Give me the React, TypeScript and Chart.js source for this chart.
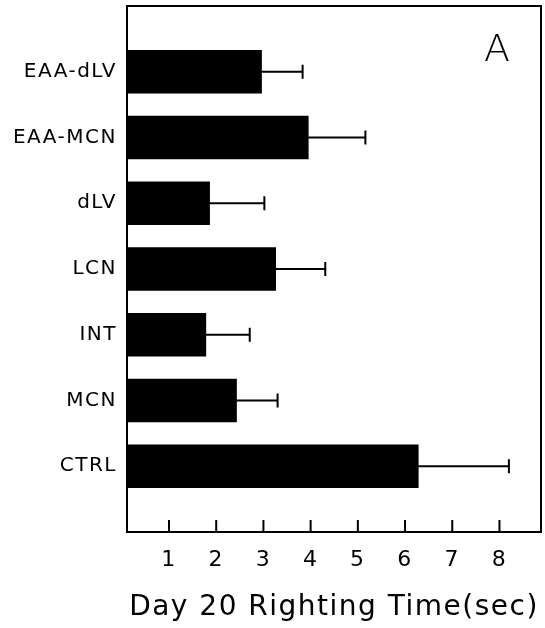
import React, { useEffect, useRef } from 'react';
import { Chart, registerables } from 'chart.js';

Chart.register(...registerables);

// ---- data ----
const categories = ['EAA-dLV', 'EAA-MCN', 'dLV', 'LCN', 'INT', 'MCN', 'CTRL'];
const meanTimes = [2.96, 3.95, 1.86, 3.26, 1.78, 2.43, 6.28];
const errorTimes = [0.87, 1.21, 1.16, 1.05, 0.93, 0.87, 1.92];
const xTicks = [1, 2, 3, 4, 5, 6, 7, 8];
const X_MIN = 0.11;
const X_MAX = 8.88;
const axisTitle = 'Day 20 Righting Time(sec)';
const panelLabel = 'A';

const FONT = '"DejaVu Sans", "Noto Sans", sans-serif';
const LETTER_SPACING = '1.5px';

export default function App() {
  const ref = useRef<HTMLCanvasElement>(null);

  useEffect(() => {
    const canvas = ref.current;
    if (!canvas) return;
    const labels = ['', ...categories, ''];
    const data = [null, ...meanTimes, null];

    const decor = {
      id: 'decor',
      beforeUpdate(chart: any) {
        chart.ctx.letterSpacing = LETTER_SPACING;
      },
      beforeDraw(chart: any) {
        chart.ctx.letterSpacing = LETTER_SPACING;
      },
      afterDatasetsDraw(chart: any) {
        const ctx = chart.ctx;
        const xs = chart.scales.x;
        const meta = chart.getDatasetMeta(0);
        ctx.save();
        ctx.strokeStyle = '#000';
        ctx.lineWidth = 2;
        meta.data.forEach((el: any, i: number) => {
          const k = i - 1;
          if (k < 0 || k >= categories.length) return;
          const x0 = el.x;
          const x1 = xs.getPixelForValue(meanTimes[k] + errorTimes[k]);
          const y = el.y;
          ctx.beginPath();
          ctx.moveTo(x0, y);
          ctx.lineTo(x1, y);
          ctx.moveTo(x1, y - 7);
          ctx.lineTo(x1, y + 7);
          ctx.stroke();
        });
        ctx.restore();
      },
      afterDraw(chart: any) {
        const ctx = chart.ctx;
        const a = chart.chartArea;
        const xs = chart.scales.x;
        ctx.save();
        ctx.strokeStyle = '#000';
        ctx.lineWidth = 2;
        ctx.strokeRect(a.left, a.top, a.right - a.left, a.bottom - a.top);
        ctx.beginPath();
        xTicks.forEach((v) => {
          const px = xs.getPixelForValue(v);
          ctx.moveTo(px, a.bottom);
          ctx.lineTo(px, a.bottom - 12);
        });
        ctx.stroke();
        ctx.fillStyle = '#000';
        ctx.font = `200 38px ${FONT}`;
        ctx.textAlign = 'center';
        ctx.textBaseline = 'alphabetic';
        ctx.letterSpacing = '0px';
        ctx.fillText(panelLabel, a.right - 44, a.top + 55);
        ctx.restore();
      },
    };

    const chart = new Chart(canvas, {
      type: 'bar',
      data: {
        labels,
        datasets: [
          {
            data,
            backgroundColor: '#000',
            borderWidth: 0,
            barThickness: 43,
            clip: 0,
          } as any,
        ],
      },
      options: {
        indexAxis: 'y',
        responsive: false,
        animation: false,
        layout: { padding: { top: 6, right: 4, left: 0, bottom: 0 } },
        plugins: {
          legend: { display: false },
          tooltip: { enabled: false },
        },
        scales: {
          x: {
            type: 'linear',
            position: 'bottom',
            min: X_MIN,
            max: X_MAX,
            afterBuildTicks: (s: any) => {
              s.ticks = xTicks.map((v) => ({ value: v }));
            },
            afterFit: (s: any) => {
              s.height = 96;
              s.paddingLeft = 0;
              s.paddingRight = 0;
            },
            grid: { display: false },
            border: { display: false },
            ticks: {
              padding: 7,
              color: '#000',
              autoSkip: false,
              maxRotation: 0,
              font: { family: FONT, size: 22 },
            },
            title: {
              display: true,
              text: axisTitle,
              color: '#000',
              font: { family: FONT, size: 28 },
              padding: { top: 0, bottom: 3 },
            },
          },
          y: {
            type: 'category',
            offset: false,
            afterFit: (s: any) => {
              s.width = 127;
              s.paddingTop = 0;
              s.paddingBottom = 0;
            },
            grid: { display: false },
            border: { display: false },
            ticks: {
              padding: 2,
              color: '#000',
              autoSkip: false,
              font: { family: FONT, size: 20 },
            },
          },
        },
      },
      plugins: [decor],
    } as any);

    return () => chart.destroy();
  }, []);

  return (
    <div style={{ position: 'absolute', left: 0, top: 0, width: 545, height: 628 }}>
      <canvas ref={ref} width={545} height={628} style={{ display: 'block' }} />
    </div>
  );
}
